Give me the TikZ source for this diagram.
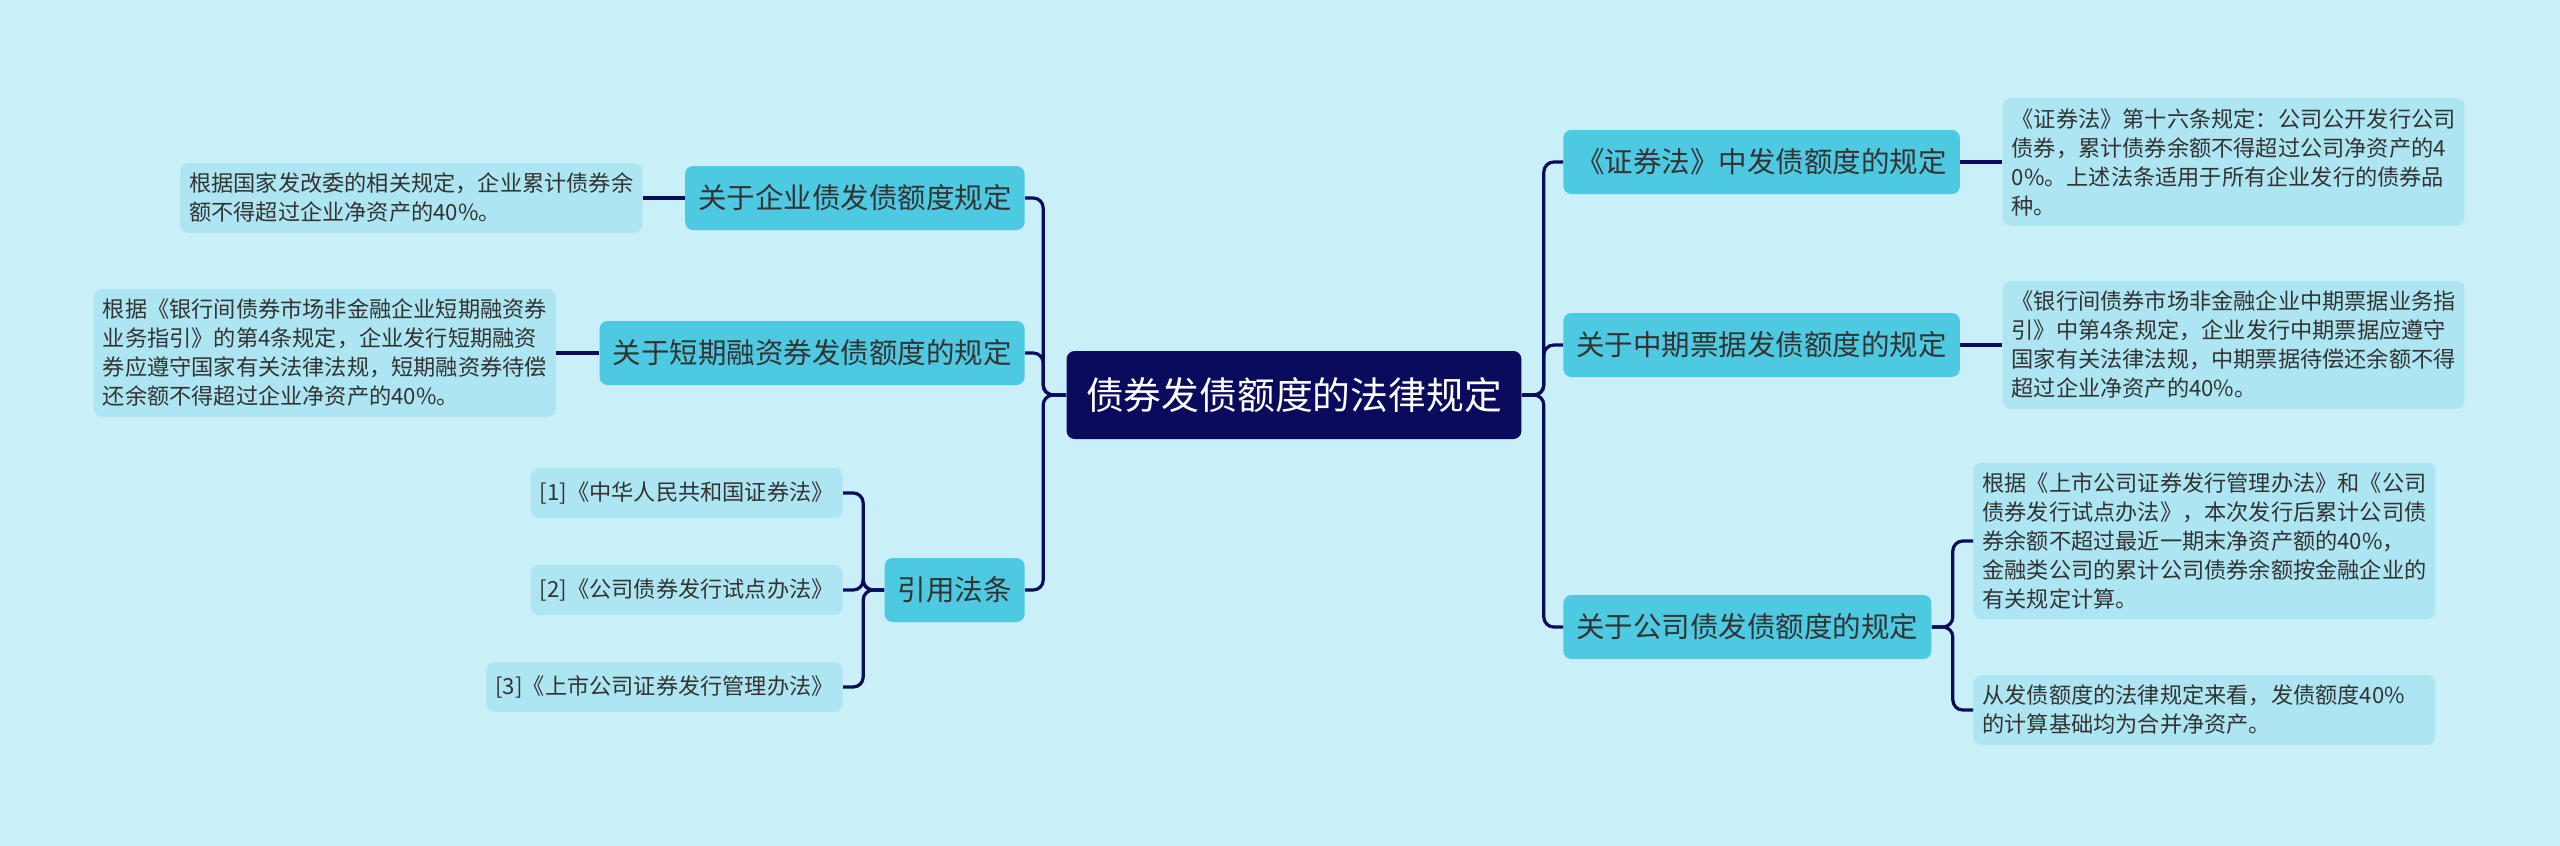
\documentclass[tikz,border=0pt]{standalone}
\usepackage{fontspec}
\setmainfont{Noto Sans CJK SC}
\usepackage{xcolor}
\usepackage{tikz}
\usetikzlibrary{positioning}
\definecolor{bgcyan}{RGB}{201,240,248}
\definecolor{boxcyan}{RGB}{77,201,226}
\definecolor{leafcyan}{RGB}{173,230,242}
\definecolor{navy}{RGB}{11,11,94}
\definecolor{txtgray}{RGB}{51,51,51}

\begin{document}
\begin{tikzpicture}[x=0.5pt, y=-0.5pt,
      root/.style={fill=navy, text=white, rounded corners=4pt, inner xsep=9.75pt,
                   minimum height=44pt, font=\fontsize{18.9}{23}\selectfont},
      topic/.style={fill=boxcyan, text=txtgray, rounded corners=4pt, inner xsep=6.5pt,
                    minimum height=32pt, font=\fontsize{14.25}{17}\selectfont},
      leaf/.style={fill=leafcyan, text=txtgray, rounded corners=4pt, align=left,
                   inner xsep=4.5pt, inner ysep=5pt, font=\fontsize{11.1}{14.5}\selectfont},
      ref/.style={leaf, minimum height=25pt},
      link/.style={draw=navy, line width=1.6pt, rounded corners=5pt}]

    \fill[bgcyan] (0,0) rectangle (2560,846);
    \useasboundingbox (0,0) rectangle (2560,846);

    \node[root] (root) at (1294,395) {债券发债额度的法律规定};

    \node[topic, anchor=east] (L1) at (1025,198) {关于企业债发债额度规定};
    \node[topic, anchor=east] (L2) at (1025,353) {关于短期融资券发债额度的规定};
    \node[topic, anchor=east] (L3) at (1025,590) {引用法条};

    \node[leaf, left=21pt of L1] (L1a) {根据国家发改委的相关规定，企业累计债券余\\额不得超过企业净资产的40\%。};
    \node[leaf, left=21.5pt of L2] (L2a) {根据《银行间债券市场非金融企业短期融资券\\业务指引》的第4条规定，企业发行短期融资\\券应遵守国家有关法律法规，短期融资券待偿\\还余额不得超过企业净资产的40\%。};

    \node[ref, anchor=east] (L3a) at (843,493) {[1]《中华人民共和国证券法》};
    \node[ref, anchor=east] (L3b) at (843,590) {[2]《公司债券发行试点办法》};
    \node[ref, anchor=east] (L3c) at (843,687) {[3]《上市公司证券发行管理办法》};

    \node[topic, anchor=west] (R1) at (1563,162) {《证券法》中发债额度的规定};
    \node[topic, anchor=west] (R2) at (1563,345) {关于中期票据发债额度的规定};
    \node[topic, anchor=west] (R3) at (1563,627) {关于公司债发债额度的规定};

    \node[leaf, right=21pt of R1] (R1a) {《证券法》第十六条规定：公司公开发行公司\\债券，累计债券余额不得超过公司净资产的4\\0\%。上述法条适用于所有企业发行的债券品\\种。};
    \node[leaf, right=21pt of R2] (R2a) {《银行间债券市场非金融企业中期票据业务指\\引》中第4条规定，企业发行中期票据应遵守\\国家有关法律法规，中期票据待偿还余额不得\\超过企业净资产的40\%。};
    \node[leaf, anchor=west] (R3a) at (1973,541) {根据《上市公司证券发行管理办法》和《公司\\债券发行试点办法》，本次发行后累计公司债\\券余额不超过最近一期末净资产额的40\%，\\金融类公司的累计公司债券余额按金融企业的\\有关规定计算。};
    \node[leaf, anchor=west, text width=222pt] (R3b) at (1973,710) {从发债额度的法律规定来看，发债额度40\%\\的计算基础均为合并净资产。};

    \foreach \n in {L1,L2,L3}
      \draw[link] (root.west) -- ++(-23,0) |- (\n.east);
    \foreach \n in {R1,R2,R3}
      \draw[link] (root.east) -- ++(22,0) |- (\n.west);
    \foreach \n in {L3a,L3b,L3c}
      \draw[link] (L3.west) -- ++(-21,0) |- (\n.east);
    \foreach \n in {R3a,R3b}
      \draw[link] (R3.east) -- ++(21,0) |- (\n.west);
    \draw[link] (L1.west) -- (L1a.east);
    \draw[link] (L2.west) -- (L2a.east);
    \draw[link] (R1.east) -- (R1a.west);
    \draw[link] (R2.east) -- (R2a.west);
  \end{tikzpicture}
\end{document}
